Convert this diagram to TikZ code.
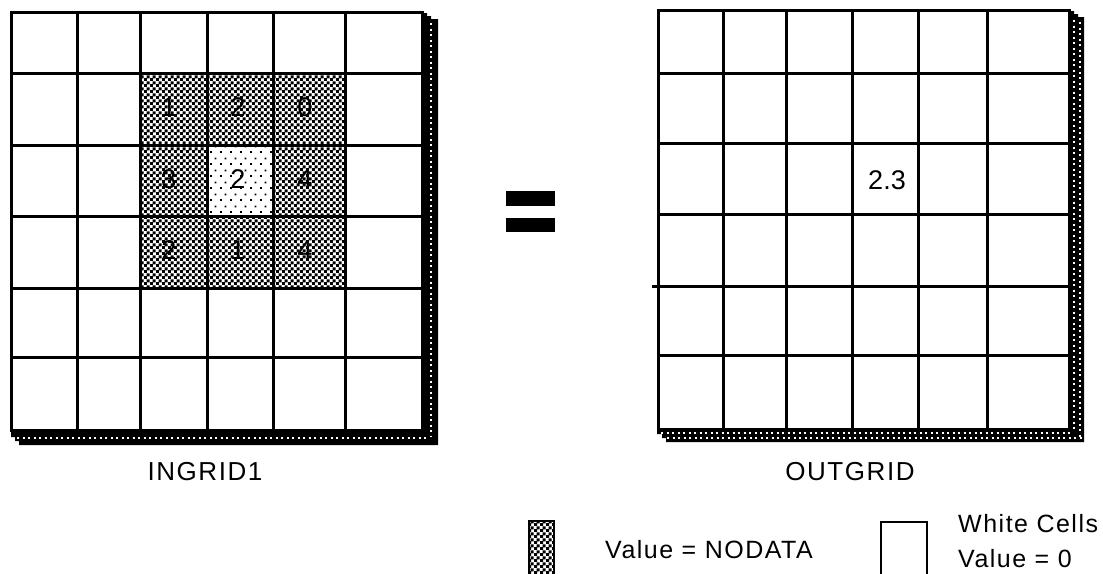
\documentclass[tikz,border=0pt]{standalone}
\usepackage{fontspec}
\setmainfont{Liberation Sans}
\newfontfamily\labfont[LetterSpace=6]{Liberation Sans}
\usetikzlibrary{patterns}
\pgfdeclarepatternformonly{chk}{\pgfpoint{0pt}{0pt}}{\pgfpoint{6pt}{6pt}}{\pgfpoint{6pt}{6pt}}{%
  \pgfpathrectangle{\pgfpoint{0pt}{0pt}}{\pgfpoint{3.4pt}{3.4pt}}%
  \pgfpathrectangle{\pgfpoint{3pt}{3pt}}{\pgfpoint{3.4pt}{3.4pt}}%
  \pgfusepath{fill}}
\pgfdeclarepatternformonly{sparse}{\pgfpoint{0pt}{0pt}}{\pgfpoint{10pt}{12pt}}{\pgfpoint{10pt}{12pt}}{%
  \pgfpathrectangle{\pgfpoint{0pt}{0pt}}{\pgfpoint{2pt}{2pt}}%
  \pgfpathrectangle{\pgfpoint{5pt}{6pt}}{\pgfpoint{2pt}{2pt}}%
  \pgfusepath{fill}}
\tikzset{
  gridline/.style={line width=3pt},
  digit/.style={inner sep=0pt, font=\fontsize{27}{30}\selectfont},
  lab/.style={inner sep=0pt, font=\labfont\fontsize{25}{28}\selectfont},
  title/.style={inner sep=0pt, font=\labfont\fontsize{26}{28}\selectfont},
  dotsline/.style={white, line width=2pt, dash pattern=on 2pt off 3.5pt},
}
\begin{document}
\begin{tikzpicture}[x=1pt,y=-1pt]
\useasboundingbox (0,0) rectangle (1103,573);
% ---------- left grid ----------
% shadow
\fill (423,13) -- (427,13) -- (427,16) -- (431,16) -- (431,19) -- (438,19) -- (438,445)
  -- (19,445) -- (19,441) -- (15,441) -- (15,437) -- (11,437) -- (11,431) -- (423,431) -- cycle;
\draw[dotsline] (430.5,23) -- (430.5,436);
\draw[dotsline] (17,437.5) -- (428,437.5);
\fill[white] (11,12) rectangle (422,430);
% hatched cells
\fill[pattern=chk] (140,73) rectangle (345,288);
\fill[white] (207,145) rectangle (273,216);
\fill[pattern=sparse] (207,145) rectangle (273,216);
% grid lines
\foreach \x in {77,140,207,273,345} \draw[gridline] (\x,12) -- (\x,430);
\foreach \y in {73,145,216,288,357} \draw[gridline] (11,\y) -- (422,\y);
\draw[gridline] (11,12) rectangle (422,430);
% digits
\node[digit] (a11) at (169,107) {1};
\node[digit] (a12) at (238,107) {2};
\node[digit] (a13) at (305,107) {0};
\node[digit] (a21) at (169,179) {3};
\node[digit] (a22) at (238,179) {2};
\node[digit] (a23) at (305,179) {4};
\node[digit] (a31) at (169,250) {2};
\node[digit] (a32) at (238,250) {1};
\node[digit] (a33) at (305,250) {4};
\node[title] (in) at (205,472) {INGRID1};
% ---------- equals ----------
\fill (506,191) rectangle (555,206);
\fill (506,218) rectangle (555,232);
% ---------- right grid ----------
\fill (1070,11) -- (1074,11) -- (1074,14) -- (1078,14) -- (1078,17) -- (1084,17) -- (1084,442)
  -- (666,442) -- (666,438) -- (662,438) -- (662,434) -- (657,434) -- (657,430) -- (1070,430) -- cycle;
\draw[dotsline] (1073.5,20) -- (1073.5,431);
\draw[dotsline] (1079.5,22) -- (1079.5,437);
\draw[dotsline] (661,432.5) -- (1072,432.5);
\draw[dotsline] (667,438) -- (1082,438);
\fill[white] (658,10) rectangle (1069,429);
\foreach \x in {723,786,852,918,987} \draw[gridline] (\x,10) -- (\x,429);
\foreach \y in {73,143,214,355} \draw[gridline] (658,\y) -- (1069,\y);
\draw[gridline] (652,286) -- (1069,286);
\draw[gridline] (658,10) rectangle (1069,429);
\node[digit] (b) at (887,180) {2.3};
\node[title] (out) at (850,472) {OUTGRID};
% ---------- legend ----------
\node[draw, line width=1.5pt, minimum width=25pt, minimum height=54pt, inner sep=0pt,
      pattern=chk, anchor=north west] (nd) at (528,520) {};
\node[lab, anchor=west] (ndt) at (605,550) {Value = NODATA};
\coordinate (w1) at (881,574);
\coordinate (w2) at (881,522);
\coordinate (w3) at (927,522);
\coordinate (w4) at (927,574);
\draw[line width=2.5pt] (w1) -- (w2) -- (w3) -- (w4);
\node[lab, anchor=west] (wc) at (958,524) {White Cells};
\node[lab, anchor=west] (wv) at (958,559) {Value = 0};
\end{tikzpicture}
\end{document}
